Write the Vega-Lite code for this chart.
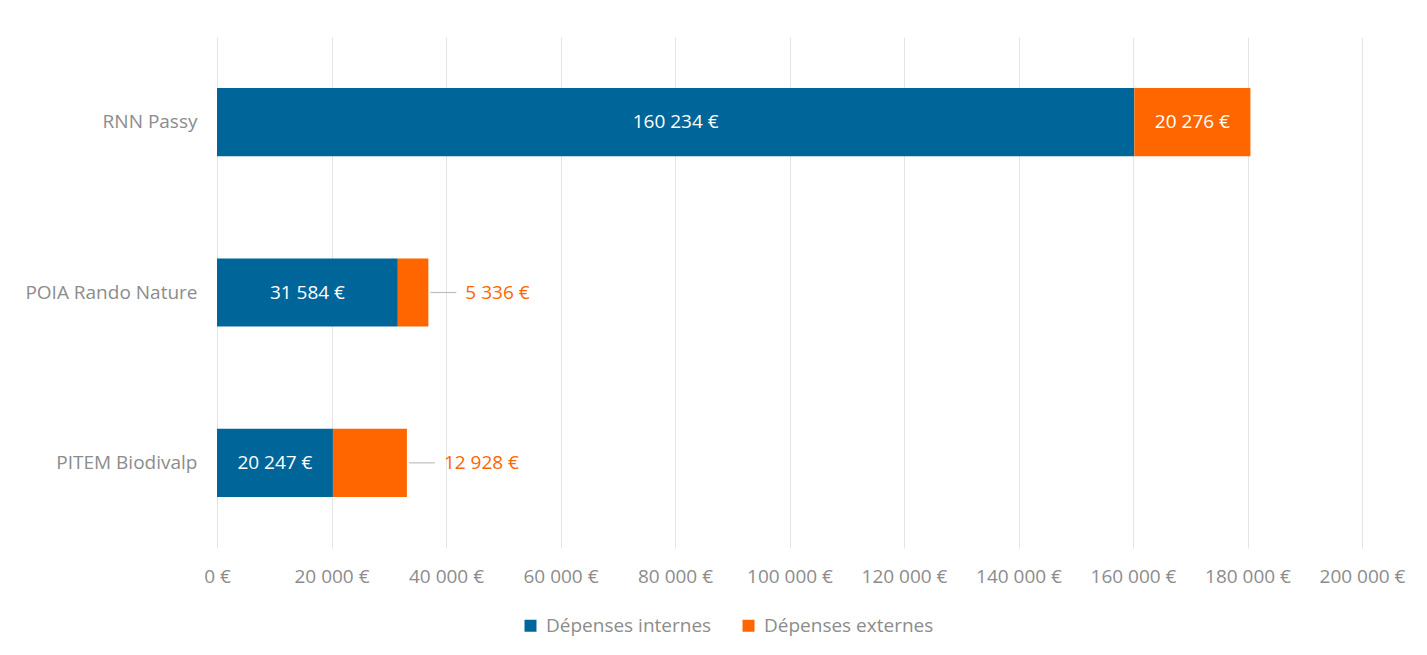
{
  "$schema": "https://vega.github.io/schema/vega-lite/v6.json",
  "width": 1145,
  "height": 511,
  "autosize": {"type": "none"},
  "padding": {"left": 217, "top": 37, "right": 65, "bottom": 107},
  "background": "white",
  "config": {
    "locale": {"number": {"decimal": ",", "thousands": "\u00a0", "grouping": [3], "currency": ["", "\u00a0€"]}},
    "view": {"stroke": null},
    "font": "Open Sans"
  },
  "data": {
    "values": [
      {"projet": "RNN Passy", "type": "Dépenses internes", "ordre": 1, "valeur": 160234},
      {"projet": "RNN Passy", "type": "Dépenses externes", "ordre": 2, "valeur": 20276},
      {"projet": "POIA Rando Nature", "type": "Dépenses internes", "ordre": 1, "valeur": 31584},
      {"projet": "POIA Rando Nature", "type": "Dépenses externes", "ordre": 2, "valeur": 5336},
      {"projet": "PITEM Biodivalp", "type": "Dépenses internes", "ordre": 1, "valeur": 20247},
      {"projet": "PITEM Biodivalp", "type": "Dépenses externes", "ordre": 2, "valeur": 12928}
    ]
  },
  "encoding": {
    "y": {
      "field": "projet", "type": "nominal",
      "sort": ["RNN Passy", "POIA Rando Nature", "PITEM Biodivalp"],
      "scale": {"paddingInner": 0.6, "paddingOuter": 0.3},
      "axis": {"title": null, "ticks": false, "domain": false, "labelPadding": 20, "labelFontSize": 19, "labelColor": "#8c8c8c", "labelFont": "Open Sans"}
    },
    "order": {"field": "ordre", "type": "quantitative"}
  },
  "layer": [
    {
      "mark": {"type": "bar"},
      "encoding": {
        "x": {
          "field": "valeur", "type": "quantitative", "stack": "zero",
          "scale": {"domain": [0, 200000], "nice": false},
          "axis": {"title": null, "format": "$,.0f", "values": [0, 20000, 40000, 60000, 80000, 100000, 120000, 140000, 160000, 180000, 200000], "ticks": false, "domain": false, "grid": true, "gridColor": "#e3e3e3", "gridWidth": 1, "labelPadding": 19, "labelFontSize": 19, "labelColor": "#8c8c8c", "labelFont": "Open Sans", "labelFlush": false}
        },
        "color": {
          "field": "type", "type": "nominal",
          "scale": {"domain": ["Dépenses internes", "Dépenses externes"], "range": ["#006699", "#ff6600"]},
          "legend": {"title": null, "orient": "none", "direction": "horizontal", "legendX": 304, "legendY": 579, "symbolType": "square", "symbolSize": 144, "symbolStrokeWidth": 0, "labelFontSize": 19, "labelColor": "#8c8c8c", "labelFont": "Open Sans", "labelLimit": 400, "columnPadding": 27, "labelOffset": 6}
        }
      }
    },
    {
      "mark": {"type": "text", "color": "white", "fontSize": 19, "font": "Open Sans", "baseline": "middle", "align": "center"},
      "encoding": {
        "x": {"field": "valeur", "type": "quantitative", "stack": "zero", "bandPosition": 0.5},
        "text": {"condition": {"test": "datum.type === 'Dépenses externes' && datum.valeur < 15000", "value": ""}, "field": "valeur", "type": "quantitative", "format": "$,.0f"}
      }
    },
    {
      "transform": [
        {"stack": "valeur", "groupby": ["projet"], "sort": [{"field": "ordre", "order": "ascending"}], "as": ["v0", "v1"]},
        {"filter": "datum.type === 'Dépenses externes' && datum.valeur < 15000"}
      ],
      "mark": {"type": "rule", "color": "#bfbfbf", "strokeWidth": 1.2, "xOffset": 2, "x2Offset": 28},
      "encoding": {
        "x": {"field": "v1", "type": "quantitative"},
        "x2": {"field": "v1"},
        "order": null
      }
    },
    {
      "mark": {"type": "text", "color": "#ff6600", "fontSize": 19, "font": "Open Sans", "baseline": "middle", "align": "left", "dx": 37},
      "encoding": {
        "x": {"field": "valeur", "type": "quantitative", "stack": "zero"},
        "text": {"condition": {"test": "datum.type === 'Dépenses externes' && datum.valeur < 15000", "field": "valeur", "type": "quantitative", "format": "$,.0f"}, "value": ""}
      }
    }
  ]
}
